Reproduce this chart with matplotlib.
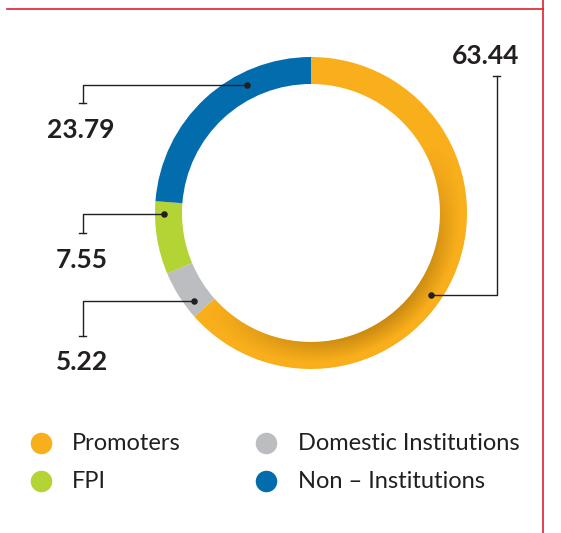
import numpy as np
import matplotlib
matplotlib.use("Agg")
import matplotlib.pyplot as plt

# dados do gráfico de participação acionária
categorias = ['Promoters', 'Domestic Institutions', 'FPI', 'Non – Institutions']
valores = [63.44, 5.22, 7.55, 23.79]
rotulos = ['63.44', '5.22', '7.55', '23.79']
cores = ['#F9AE1B', '#BCBDC0', '#B4D335', '#036CAD']

# layout (pixels)
W, H = 561, 533
cx, cy = 311, 213
r_ext, largura = 156, 27
# angulo (horario a partir do topo) onde fica o ponto de cada chamada
ang_ponto = [124.4, 233.0, 269.6, 333.6]
raio_ponto = [146, 146, 147, 143]
# posição dos números e fim das linhas
pos_texto = [(486, 56), (82, 362), (82, 260), (81, 130)]
fim_linha = [(497, 76), (83, 336), (83, 233), (83, 103)]

cor_texto = '#231F20'
plt.rcParams['font.family'] = ['Lato', 'DejaVu Sans']

fig = plt.figure(figsize=(W / 100, H / 100), dpi=100)
ax = fig.add_axes([0, 0, 1, 1])

# rosca: eixo y invertido, então startangle=-90 é o topo e sentido anti-horário vira horário
fatias, _ = ax.pie(valores, colors=cores, startangle=-90, counterclock=True,
                   center=(cx, cy), radius=r_ext, frame=True,
                   wedgeprops=dict(width=largura, linewidth=0))
ax.set_xlim(0, W)
ax.set_ylim(H, 0)
ax.set_aspect('equal')
ax.axis('off')

# sombreado no lado interno do laranja (imagem recortada pela fatia)
fim_laranja = 360 * valores[0] / sum(valores)
r_int = r_ext - largura
xx, yy = np.meshgrid(np.arange(W) + 0.5, np.arange(H) + 0.5)
rr = np.hypot(xx - cx, yy - cy)
cc = np.degrees(np.arctan2(xx - cx, -(yy - cy))) % 360
peso_ang = np.clip(np.sin(np.deg2rad((cc - 60) / (fim_laranja - 60) * 180)), 0, 1)
peso_ang[(cc < 60) | (cc > fim_laranja)] = 0
peso_rad = np.clip(1 - (rr - r_int) / (largura * 0.75), 0, 1)
sombra = np.zeros((H, W, 4))
sombra[..., 0] = 0.55
sombra[..., 1] = 0.36
sombra[..., 2] = 0.02
sombra[..., 3] = 0.45 * peso_ang * peso_rad
img = ax.imshow(sombra, extent=(0, W, H, 0), origin='upper', zorder=2,
                interpolation='bilinear')
img.set_clip_path(fatias[0])
ax.set_xlim(0, W)
ax.set_ylim(H, 0)

# chamadas
for i in range(len(valores)):
    a = np.deg2rad(ang_ponto[i])
    px = cx + raio_ponto[i] * np.sin(a)
    py = cy - raio_ponto[i] * np.cos(a)
    ex, ey = fim_linha[i]
    ax.plot([px, ex, ex], [py, py, ey], color=cor_texto, lw=1.0, zorder=5)
    ax.plot([ex - 3.5, ex + 3.5], [ey, ey], color=cor_texto, lw=1.0, zorder=5)
    ax.scatter([px], [py], s=22, color=cor_texto, zorder=6, linewidths=0)
    tx, ty = pos_texto[i]
    ax.text(tx, ty, rotulos[i], ha='center', va='center', fontsize=19,
            fontweight='bold', color=cor_texto)

# legenda (2 colunas)
leg_x = [41, 266]
leg_txt_x = [72, 298]
leg_y = [443, 481]
for k in range(len(categorias)):
    col = k % 2
    lin = k // 2
    ax.scatter([leg_x[col]], [leg_y[lin]], s=240, color=cores[k], linewidths=0)
    ax.text(leg_txt_x[col], leg_y[lin], categorias[k], ha='left', va='center',
            fontsize=17, color=cor_texto)

# linhas vermelhas da moldura
ax.plot([7, 543], [9, 9], color='#E0202B', lw=1.2)
ax.plot([543, 543], [0, H], color='#E0202B', lw=1.2)

fig.savefig('out.png', dpi=100)
